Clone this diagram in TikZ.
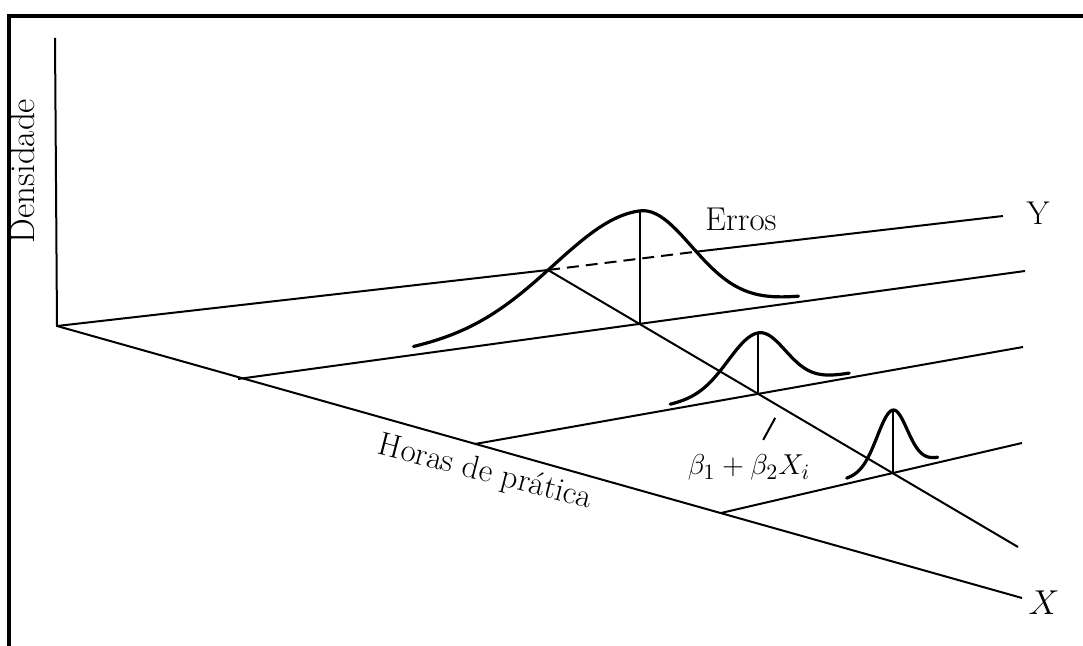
\documentclass[tikz,border=0pt]{standalone}
\usepackage{tikz}
\usetikzlibrary{calc}
\tikzstyle{axisline} = [draw, line width=1pt]
\tikzstyle{bell} = [draw, line width=1.6pt, line cap=round, samples=90]
\tikzstyle{frameline} = [draw, line width=1.7pt]
\tikzstyle{txt} = [font=\fontsize{16.5}{20}\selectfont, inner sep=0pt]

\begin{document}
\begin{tikzpicture}[x=0.5pt, y=-0.5pt]
        \useasboundingbox (0,0) rectangle (1083,646);
        % Frame
        \path [frameline] (9,660) -- (9,16) -- (1100,16);

        % Points
        \coordinate (o) at (57,326);
        \coordinate (dtop) at (55,38);
        \coordinate (yend) at (1003,216);
        \coordinate (xend) at (1022,598);
        \coordinate (f2) at (238,379);
        \coordinate (f3) at (475,444);
        \coordinate (f4) at (721,513);
        \coordinate (e2) at (1025,271);
        \coordinate (e3) at (1023,347);
        \coordinate (e4) at (1022,443);
        \coordinate (ra) at (548,270);
        \coordinate (rend) at (1018,547);
        \coordinate (m1) at (intersection of ra--rend and f2--e2);
        \coordinate (m2) at (intersection of ra--rend and f3--e3);
        \coordinate (m3) at (intersection of ra--rend and f4--e4);
        \coordinate (q1) at ($(m1)+(57.5,-71.5)$);
        \coordinate (c1) at ($(o)!(q1)!(yend)$);

        % Axes and grid lines
        \path [axisline] (dtop) -- (o) -- (xend);
        \path [axisline] (o) -- (ra);
        \path [axisline, dash pattern=on 6pt off 3.5pt] (ra) -- (c1);
        \path [axisline] (c1) -- (yend);
        \path [axisline] (f2) -- (e2);
        \path [axisline] (f3) -- (e3);
        \path [axisline] (f4) -- (e4);
        \path [axisline] (ra) -- (rend);

        % Error curves
        \begin{scope}[shift={(m1)}]
            \path [bell] plot [domain=-226:159] (\x, {-0.137*\x - 5 - 108*exp(-0.5*(\x/ifthenelse(\x<0,86,52))^2)});
            \path [axisline] (0,0) -- (0,-113);
        \end{scope}
        \begin{scope}[shift={(m2)}]
            \path [bell] plot [domain=-88:91] (\x, {-0.177*\x - 4.5 - 56.5*exp(-0.5*(\x/ifthenelse(\x<0,30,27))^2)});
            \path [axisline] (0,0) -- (0,-61);
        \end{scope}
        \begin{scope}[shift={(m3)}]
            \path [bell] plot [domain=-46:45] (\x, {-0.2326*\x - 5 - 58*exp(-0.5*(\x/ifthenelse(\x<0,15.5,14.5))^2)});
            \path [axisline] (0,0) -- (0,-63);
        \end{scope}

        % Labels
        \node [txt, rotate=90, anchor=base, font=\fontsize{17.5}{20}\selectfont] (dens) at (34,171) {Densidade};
        \node [txt, anchor=base] (erros) at (741,231) {Erros};
        \node [txt, anchor=base] (ylab) at (1038,225) {Y};
        \node [txt, anchor=base] (xlab) at (1044,615) {$X$};
        \node [txt, rotate=-14.5, anchor=base] (horas) at (483,481) {Horas de prática};
        \node [txt, anchor=base, font=\fontsize{15}{18}\selectfont] (beta) at (749,475) {$\beta_1 + \beta_2 X_i$};
        \coordinate (lead1) at ($(m2)+(17,24)$);
        \coordinate (lead2) at ($(m2)+(5,46)$);
        \path [axisline] (lead1) -- (lead2);
    \end{tikzpicture}
\end{document}
